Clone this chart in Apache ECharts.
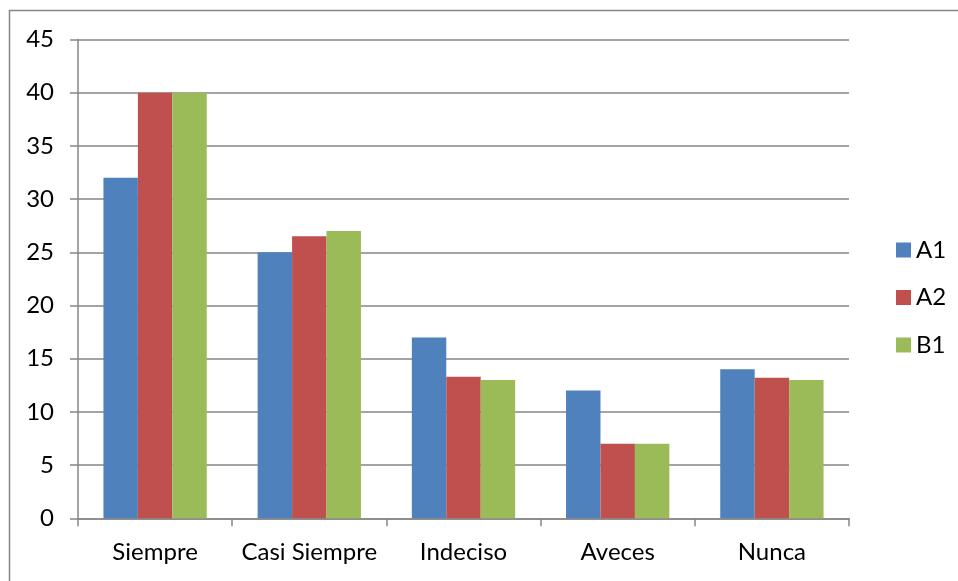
<!DOCTYPE html>
<html>
<head>
<meta charset="utf-8">
<script src="https://cdn.jsdelivr.net/npm/echarts@6/dist/echarts.min.js"></script>
<style>
html,body{margin:0;padding:0;background:#fff;}
#chart{width:958px;height:581px;}
</style>
</head>
<body>
<div id="chart"></div>
<script>
const categories = ['Siempre', 'Casi Siempre', 'Indeciso', 'Aveces', 'Nunca'];
const seriesNames = ['A1', 'A2', 'B1'];
const valuesA1 = [32, 25, 17, 12, 14];
const valuesA2 = [40, 26.5, 13.3, 7, 13.2];
const valuesB1 = [40, 27, 13, 7, 13];
const yTicks = [0, 5, 10, 15, 20, 25, 30, 35, 40, 45];
const colors = ['#4F81BD', '#C0504D', '#9BBB59'];

const font = 'Lato, "Open Sans", sans-serif';
const fs = 24;
const chart = echarts.init(document.getElementById('chart'));
const dataSets = [valuesA1, valuesA2, valuesB1];
chart.setOption({
  animation: false,
  backgroundColor: '#fff',
  textStyle: {fontFamily: font},
  graphic: [{
    type: 'rect',
    shape: {x: 9.5, y: 10.5, width: 1000, height: 700},
    style: {fill: 'none', stroke: '#868686', lineWidth: 1.5},
    silent: true,
    z: -1
  }],
  grid: {left: 78, right: 109, top: 39.5, bottom: 62.7, containLabel: false},
  legend: {
    orient: 'vertical',
    left: 891,
    top: 233,
    itemWidth: 15,
    itemHeight: 15,
    itemGap: 23.5,
    icon: 'rect',
    textStyle: {fontSize: fs, color: '#000', fontFamily: font},
    data: seriesNames
  },
  xAxis: {
    type: 'category',
    data: categories,
    axisLine: {lineStyle: {color: '#868686', width: 1.5}},
    axisTick: {show: true, length: 8, lineStyle: {color: '#868686', width: 1.5}},
    axisLabel: {fontSize: fs, color: '#000', margin: 22, interval: 0, fontFamily: font},
    splitLine: {show: false}
  },
  yAxis: {
    type: 'value',
    min: yTicks[0],
    max: yTicks[yTicks.length - 1],
    interval: 5,
    axisLine: {show: true, lineStyle: {color: '#868686', width: 1.5}},
    axisTick: {show: true, length: 8, inside: false, lineStyle: {color: '#868686', width: 1.5}},
    axisLabel: {fontSize: fs, color: '#000', margin: 24, fontFamily: font},
    splitLine: {show: true, lineStyle: {color: '#868686', width: 1.5}}
  },
  series: seriesNames.map((n, i) => ({
    name: n,
    type: 'bar',
    data: dataSets[i],
    barGap: '0%',
    barCategoryGap: '33%',
    itemStyle: {color: colors[i]}
  }))
});
</script>
</body>
</html>
